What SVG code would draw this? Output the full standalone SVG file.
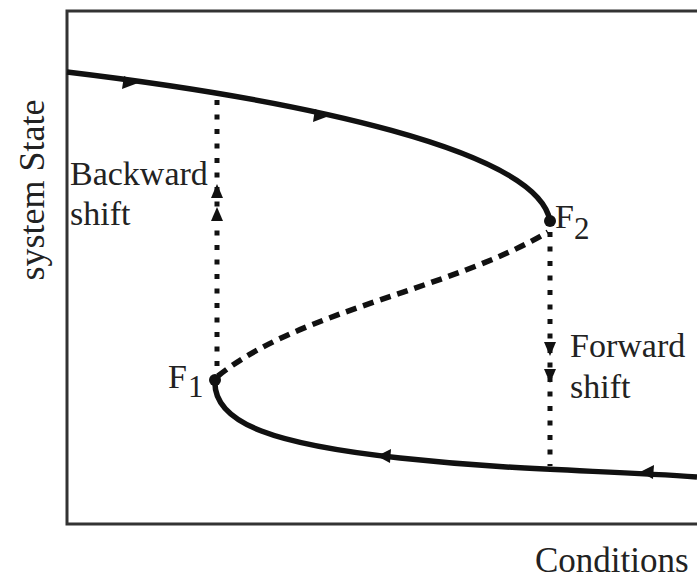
<svg xmlns="http://www.w3.org/2000/svg" width="697" height="579" viewBox="0 0 697 579">
<style>
.t{font-family:"Liberation Serif","Times New Roman",serif;fill:#222;font-size:34px}
.curve{fill:none;stroke:#111;stroke-width:5.5}
.dash{fill:none;stroke:#111;stroke-width:5.5;stroke-dasharray:11 7}
.dot{fill:none;stroke:#111;stroke-width:5;stroke-dasharray:5 9.5}
.ar{fill:#111}
</style>
<rect width="697" height="579" fill="#fff"/>
<g id="frame">
<path d="M697,11 H67 V524 H697" fill="none" stroke="#333" stroke-width="3"/>
</g>
<g id="connectors">
<path class="curve" d="M67,72 C300,100 538,150 550,221"/>
<path class="curve" d="M215,380 C212,425 280,445 400,458 S600,470 697,477"/>
<path class="dash" d="M218,376 C300,310 450,290 548,232"/>
<path class="dot" d="M217,100 V376"/>
<path class="dot" d="M550,232 V466"/>
<polygon class="ar" points="211,198 223,198 217,184"/>
<polygon class="ar" points="211,221 223,221 217,207"/>
<polygon class="ar" points="544,342 556,342 550,356"/>
<polygon class="ar" points="544,369 556,369 550,383"/>
<polygon class="ar" points="138,83 124,76 122,89"/>
<polygon class="ar" points="329,116 315,109 313,122"/>
<polygon class="ar" points="377,456 391,449 390,463"/>
<polygon class="ar" points="640,472 654,465 653,479"/>
</g>
<g id="F1">
<circle cx="215" cy="380" r="6" fill="#111"/>
<text class="t" x="168" y="388">F</text>
<text class="t" x="188" y="397" style="font-size:31px">1</text>
</g>
<g id="F2">
<circle cx="550" cy="221" r="6" fill="#111"/>
<text class="t" x="555" y="228">F</text>
<text class="t" x="574" y="239" style="font-size:31px">2</text>
</g>
<g id="labels">
<text class="t" x="70" y="185">Backward</text>
<text class="t" x="70" y="225">shift</text>
<text class="t" x="570" y="357">Forward</text>
<text class="t" x="570" y="398">shift</text>
<text class="t" x="535" y="572" style="font-size:35px">Conditions</text>
<text class="t" transform="translate(44,190) rotate(-90)" text-anchor="middle" style="font-size:36px">system State</text>
</g>
</svg>
